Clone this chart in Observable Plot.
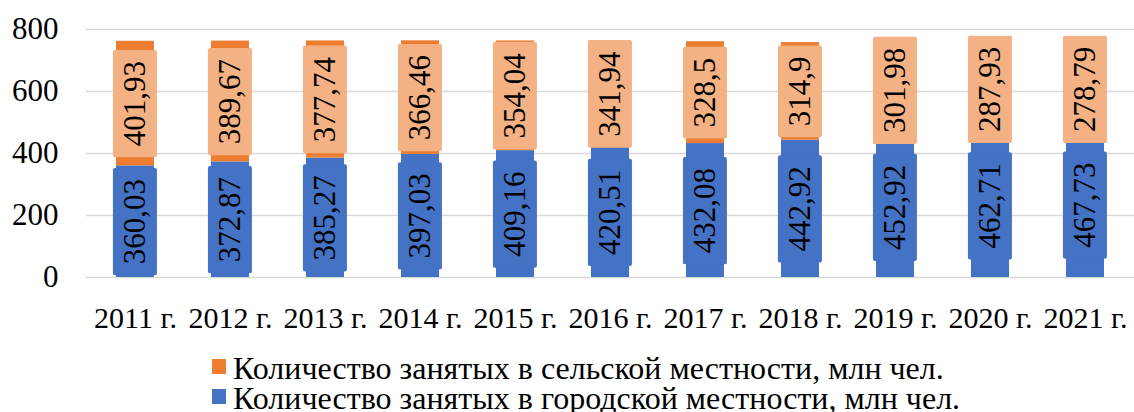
<!DOCTYPE html>
<html><head><meta charset="utf-8">
<script src="https://cdn.jsdelivr.net/npm/d3@7"></script>
<script src="https://cdn.jsdelivr.net/npm/@observablehq/plot@0.6"></script>
<style>
body{margin:0;background:#fff;font-family:"Liberation Serif","Times New Roman",serif;color:#000;overflow:hidden}
svg{display:block}
svg text{font-family:"Liberation Serif","Times New Roman",serif !important;}
#legend{margin-left:212px;padding-top:13px;font-size:32px;line-height:30px;color:#000;}
.item{display:flex;align-items:center;white-space:nowrap}
.sw{width:14px;height:15px;margin-right:7px;position:relative;top:-2px;flex:none}
</style></head><body>
<div id="chart"></div>
<div id="legend"></div>
<script>
const years = ["2011 г.","2012 г.","2013 г.","2014 г.","2015 г.","2016 г.","2017 г.","2018 г.","2019 г.","2020 г.","2021 г."];
const urban = [360.03,372.87,385.27,397.03,409.16,420.51,432.08,442.92,452.92,462.71,467.73];
const rural = [401.93,389.67,377.74,366.46,354.04,341.94,328.5,314.9,301.98,287.93,278.79];
const seriesNames = ["Количество занятых в городской местности, млн чел.","Количество занятых в сельской местности, млн чел."];
const barColors = ["#4472C4","#ED7D31"];
const boxColors = ["#4472C4","#F4B183"];
const yTicks = [0,200,400,600,800];

const rows = [];
years.forEach((y,i)=>{
  rows.push({year:y, group:seriesNames[0], gi:0, value:urban[i]});
  rows.push({year:y, group:seriesNames[1], gi:1, value:rural[i]});
});
const fmt = v => String(v).replace(".", ",");
const font = '"Liberation Serif","Times New Roman",serif';

const chart = Plot.plot({
  width:1134, height:340,
  marginTop:29, marginBottom:63, marginLeft:86, marginRight:0,
  style:{fontFamily:font, color:"#000", background:"#fff"},
  x:{domain:years, paddingInner:0.6, paddingOuter:0.3, label:null, axis:null},
  y:{domain:[0,800], label:null, axis:null},
  color:{domain:seriesNames, range:barColors},
  marks:[
    Plot.ruleY(yTicks, {stroke:"#d9d9d9", strokeWidth:1.5}),
    Plot.axisY({ticks:yTicks, tickSize:0, tickPadding:28, fontSize:31, label:null, fill:"#000"}),
    Plot.axisX({tickSize:0, tickPadding:29, fontSize:30, label:null, fill:"#000"}),
    Plot.barY(rows, Plot.stackY({x:"year", y:"value", fill:"group", z:"group", order:null})),
    Plot.text(rows, Plot.stackY({x:"year", y:"value", z:"group", order:null, text:d=>fmt(d.value), rotate:-90, fontSize:31, fill:"#000", fontFamily:font}))
  ]
});
document.getElementById("chart").append(chart);

// label background boxes (texts are rendered in data order)
const textGroup = chart.querySelector('g[aria-label="text"]');
[...textGroup.querySelectorAll("text")].forEach((t,i)=>{
  const b = t.getBBox();
  const r = document.createElementNS("http://www.w3.org/2000/svg","rect");
  r.setAttribute("x", b.x-11);
  r.setAttribute("y", b.y-4.5);
  r.setAttribute("width", b.width+22);
  r.setAttribute("height", b.height+9);
  r.setAttribute("rx", 2);
  const tr = t.getAttribute("transform");
  if (tr) r.setAttribute("transform", tr);
  r.setAttribute("fill", boxColors[rows[i].gi]);
  textGroup.insertBefore(r, t);
});

// legend (rural first, as in the reference)
const legend = document.getElementById("legend");
[1,0].forEach(i=>{
  const it = document.createElement("div"); it.className="item";
  const sw = document.createElement("span"); sw.className="sw"; sw.style.background=barColors[i];
  const tx = document.createElement("span"); tx.textContent = seriesNames[i];
  it.append(sw, tx); legend.append(it);
});
</script>
</body></html>
